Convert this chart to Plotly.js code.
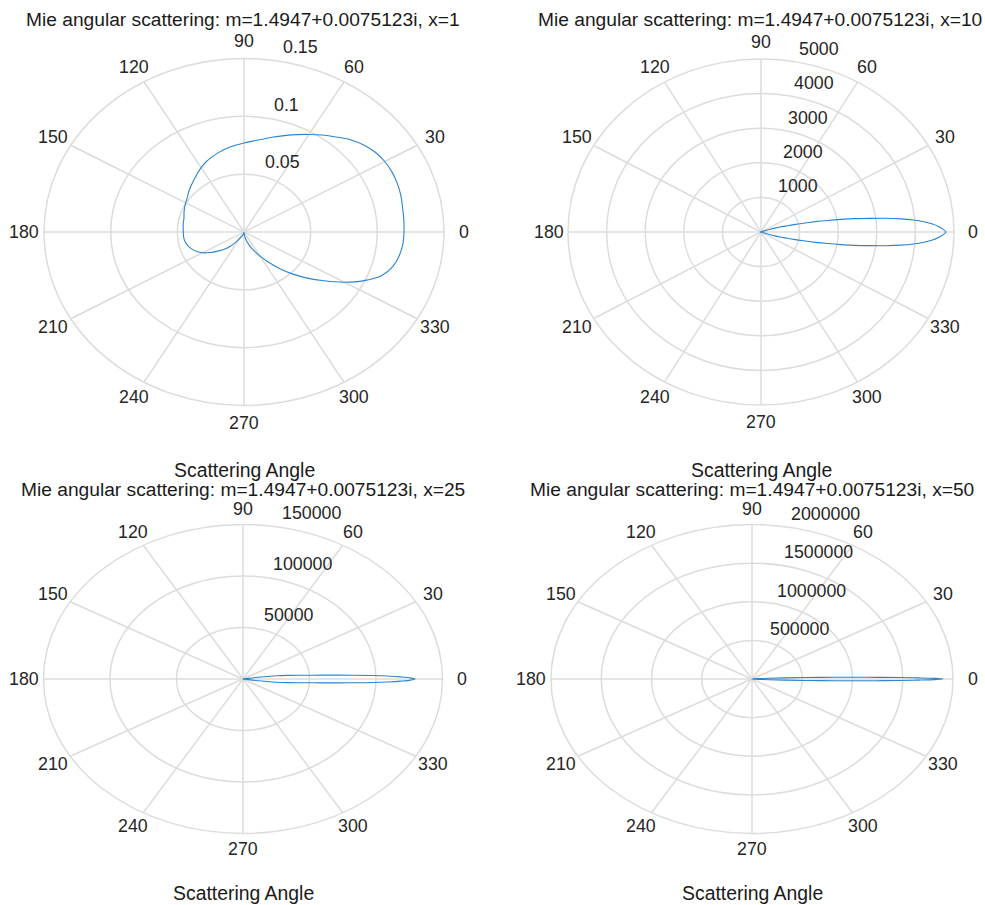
<!DOCTYPE html>
<html><head><meta charset="utf-8">
<script src="https://cdn.plot.ly/plotly-3.0.1.min.js"></script>
<style>html,body{margin:0;padding:0;background:#fff;}#chart{width:985px;height:905px;}</style>
</head><body><div id="chart"></div>
<script>
// ---------- data (scattering angle in degrees) ----------
// x = 1
const theta1 = [0,5,10,15,20,25,30,35,40,45,50,55,60,65,70,75,80,85,90,95,100,105,110,115,120,125,130,135,140,145,150,155,160,165,170,175,180];
const SL1 = [0.1200,0.1203,0.1208,0.1218,0.1224,0.1225,0.1219,0.1202,0.1171,0.1128,0.1073,0.1023,0.0974,0.0929,0.0887,0.0850,0.0815,0.0790,0.0770,0.0752,0.0735,0.0715,0.0693,0.0670,0.0643,0.0613,0.0586,0.0563,0.0541,0.0519,0.0505,0.0492,0.0479,0.0466,0.0462,0.0458,0.0455];
const SR1 = [0.1200,0.1196,0.1182,0.1155,0.1100,0.0995,0.0868,0.0735,0.0620,0.0512,0.0412,0.0317,0.0241,0.0180,0.0130,0.0088,0.0050,0.0020,0.0003,0.0002,0.0006,0.0015,0.0030,0.0045,0.0065,0.0110,0.0160,0.0210,0.0257,0.0310,0.0360,0.0395,0.0421,0.0440,0.0451,0.0455,0.0455];
// x = 10
const theta2 = [0,1,2,3,4,5,6,7,8,9,10,11,12,13,14,15,16,17,18,19,20,21,22,25,30,40,60,90,120,150,180];
const SL2 = [4790,4710,4600,4450,4230,3960,3640,3250,2835,2470,2095,1750,1440,1135,880,660,520,380,250,160,90,40,15,40,70,25,10,3,5,10,25];
const SR2 = [4790,4710,4600,4450,4230,3960,3640,3250,2835,2470,2095,1750,1440,1135,880,660,520,380,250,160,90,40,15,30,50,15,4,0,3,8,25];
// x = 25
const theta3 = [0,0.5,1,1.5,2,2.5,3,3.5,4,5,6,7,8,9,10,12,15,20,30,45,60,90,120,150,180];
const SL3 = [129500,126000,118500,108800,97600,84000,71500,62200,52900,41900,33600,25400,14000,4000,800,600,900,400,250,80,40,10,20,60,300];
const SR3 = [129500,126000,118500,108800,97600,84000,71500,62200,52900,41900,33600,25400,14000,4000,800,500,700,300,150,40,10,0,10,50,300];
// x = 50
const theta4 = [0,0.25,0.5,0.75,1,1.25,1.5,2,2.5,3,3.5,4,4.5,5,6,8,10,15,20,30,45,60,90,120,150,180];
const SL4 = [1900000,1820000,1650000,1470000,1240000,1000000,840000,530000,330000,175000,75000,20000,4000,2500,3000,2000,1500,800,500,200,100,50,20,40,80,500];
const SR4 = [1900000,1820000,1650000,1470000,1240000,1000000,840000,530000,330000,175000,75000,20000,4000,2500,2800,1800,1300,600,300,100,40,15,0,30,70,500];

// rings (radial ticks) and their labels
const rings1 = [0.05,0.1,0.15];            const ringLabels1 = ['0.05','0.1','0.15'];
const rings2 = [1000,2000,3000,4000,5000];  const ringLabels2 = ['1000','2000','3000','4000','5000'];
const rings3 = [50000,100000,150000];       const ringLabels3 = ['50000','100000','150000'];
const rings4 = [500000,1000000,1500000,2000000]; const ringLabels4 = ['500000','1000000','1500000','2000000'];

// angular ticks
const angleTicks = [0,30,60,90,120,150,180,210,240,270,300,330];
const angleLabels = ['0','30','60','90','120','150','180','210','240','270','300','330'];

const sizeParams = [1,10,25,50];
const titles = sizeParams.map(x => 'Mie angular scattering: m=1.4947+0.0075123i, x=' + x);
const xLabel = 'Scattering Angle';

// ---------- layout geometry (pixels) ----------
const W = 985, H = 905;
const panels = [
  {theta: theta1, SL: SL1, SR: SR1, rings: rings1, labels: ringLabels1, cx: 244, cy: 232, rx: 200, ry: 173.5},
  {theta: theta2, SL: SL2, SR: SR2, rings: rings2, labels: ringLabels2, cx: 761, cy: 232, rx: 193, ry: 173},
  {theta: theta3, SL: SL3, SR: SR3, rings: rings3, labels: ringLabels3, cx: 243, cy: 679, rx: 199.5, ry: 154.5},
  {theta: theta4, SL: SL4, SR: SR4, rings: rings4, labels: ringLabels4, cx: 752, cy: 679, rx: 201, ry: 154.5}
];
const titleX = [243, 760, 243, 752];
const titleY = [20, 20, 489, 489];
const xlabelY = [470, 470, 892.5, 892.5];

const FONT = '"Liberation Sans", Arial, Helvetica, sans-serif';
const TXT = '#262626';
const GRID = '#dcdcdc';
const LINE = '#2a84d0';
const F = 1.13;
const d2r = Math.PI / 180;

const traces = [];
const shapes = [];
const annotations = [];
const layout = {
  width: W, height: H,
  margin: {l: 0, r: 0, t: 0, b: 0},
  paper_bgcolor: '#ffffff', plot_bgcolor: 'rgba(0,0,0,0)',
  showlegend: false,
  font: {family: FONT, color: TXT, size: 18}
};

panels.forEach((p, i) => {
  const n = i === 0 ? '' : String(i + 1);
  const xa = 'x' + n, ya = 'y' + n;
  const R = p.rings[p.rings.length - 1];
  const rinc = p.rings[1] - p.rings[0];
  layout['xaxis' + n] = {
    domain: [(p.cx - F * p.rx) / W, (p.cx + F * p.rx) / W],
    range: [-F * R, F * R], visible: false, fixedrange: true, anchor: ya
  };
  layout['yaxis' + n] = {
    domain: [1 - (p.cy + F * p.ry) / H, 1 - (p.cy - F * p.ry) / H],
    range: [-F * R, F * R], visible: false, fixedrange: true, anchor: xa
  };

  // curve: SL on 0..180 deg, SR mirrored onto 180..360 deg
  const ang = [], rad = [];
  p.theta.forEach((t, j) => { ang.push(t); rad.push(p.SL[j]); });
  for (let j = p.theta.length - 1; j >= 0; j--) { ang.push(360 - p.theta[j]); rad.push(p.SR[j]); }
  traces.push({
    type: 'scatter', mode: 'lines', xaxis: xa, yaxis: ya,
    x: ang.map((a, k) => rad[k] * Math.cos(a * d2r)),
    y: ang.map((a, k) => rad[k] * Math.sin(a * d2r)),
    line: {color: LINE, width: 1.1, shape: 'spline', smoothing: 1, simplify: false},
    hoverinfo: 'skip'
  });

  // rings
  p.rings.forEach(r => shapes.push({
    type: 'circle', xref: xa, yref: ya, x0: -r, x1: r, y0: -r, y1: r,
    line: {color: GRID, width: 1.5}, layer: 'below'
  }));
  // spokes
  [0, 30, 60, 90, 120, 150].forEach(a => shapes.push({
    type: 'line', xref: xa, yref: ya,
    x0: -R * Math.cos(a * d2r), y0: -R * Math.sin(a * d2r),
    x1: R * Math.cos(a * d2r), y1: R * Math.sin(a * d2r),
    line: {color: GRID, width: 1.5}, layer: 'below'
  }));
  // angular labels
  angleTicks.forEach((a, k) => annotations.push({
    xref: xa, yref: ya, x: 1.1 * R * Math.cos(a * d2r), y: 1.1 * R * Math.sin(a * d2r),
    text: angleLabels[k], showarrow: false, xanchor: 'center', yanchor: 'middle',
    font: {family: FONT, size: 17.8, color: TXT}
  }));
  // radial labels at 82 deg
  p.rings.forEach((r, k) => annotations.push({
    xref: xa, yref: ya, x: (r + rinc / 20) * Math.cos(82 * d2r), y: (r + rinc / 20) * Math.sin(82 * d2r),
    text: p.labels[k], showarrow: false, xanchor: 'left', yanchor: 'bottom', xshift: 9, yshift: -2,
    font: {family: FONT, size: 17.8, color: TXT}
  }));
  // title and x label
  annotations.push({
    xref: 'paper', yref: 'paper', x: titleX[i] / W, y: 1 - titleY[i] / H,
    text: titles[i], showarrow: false, xanchor: 'center', yanchor: 'middle',
    font: {family: FONT, size: 19.2, color: '#1a1a1a'}
  });
  annotations.push({
    xref: 'paper', yref: 'paper', x: p.cx / W, y: 1 - xlabelY[i] / H,
    text: xLabel, showarrow: false, xanchor: 'center', yanchor: 'middle',
    font: {family: FONT, size: 19.4, color: '#1a1a1a'}
  });
});

layout.shapes = shapes;
layout.annotations = annotations;
Plotly.newPlot('chart', traces, layout, {staticPlot: true, displayModeBar: false});
</script></body></html>
